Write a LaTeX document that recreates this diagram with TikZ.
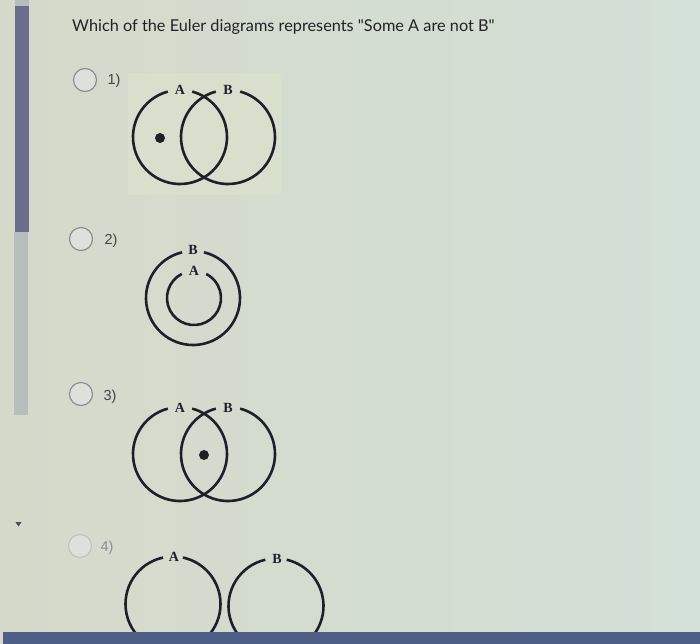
\documentclass[tikz,border=0pt]{standalone}
\usepackage{fontspec}
\setmainfont{Lato}
\newfontfamily\labfont{Liberation Serif}
\newfontfamily\numfont{Liberation Sans}
\definecolor{bgL}{HTML}{D5D9CA}
\definecolor{bgR}{HTML}{D3E0D7}
\definecolor{boxcol}{HTML}{D9DFCD}
\definecolor{ink}{HTML}{1F1F2A}
\definecolor{barDark}{HTML}{6A6E8A}
\definecolor{barLight}{HTML}{B8BDBE}
\definecolor{botbar}{HTML}{4D5E87}
\definecolor{radioline}{HTML}{8A9095}
\definecolor{radiofill}{HTML}{DCE2DA}
\definecolor{titlecol}{HTML}{222226}
\begin{document}
\begin{tikzpicture}[x=1pt,y=1pt,
  setline/.style={draw=ink,line width=2.6pt},
  setlab/.style={inner sep=0pt,font=\labfont\bfseries\fontsize{14}{14}\selectfont,text=ink},
  radio/.style={circle,draw=radioline,line width=1.2pt,fill=radiofill,minimum size=23pt,inner sep=0pt},
  num/.style={inner sep=0pt,font=\numfont\fontsize{14.5}{14.5}\selectfont,text=titlecol!85!white},
  dotmark/.style={circle,fill=ink,minimum size=10pt,inner sep=0pt}]
\useasboundingbox (0,0) rectangle (700,-643);
\begin{scope}
\clip (0,0) rectangle (700,-643);
\shade[left color=bgL,right color=bgR] (0,0) rectangle (700,-643);
% diagram 1 image box
\fill[boxcol] (128,-73) rectangle (281,-195);
% left bars
\fill[barLight] (15,0) rectangle (29,-6);
\fill[barDark] (15,-6) rectangle (29,-232);
\fill[barLight] (14,-232) rectangle (28,-415);
\fill[ink!80] (15.5,-522) -- (21.5,-522) -- (18.5,-526.5) -- cycle;
% title
\node[anchor=base west,inner sep=0pt,text=titlecol,font=\fontsize{16.3}{16.3}\selectfont] (title) at (72,-31) {Which of the Euler diagrams represents \textquotedbl Some A are not B\textquotedbl};
% radio buttons
\node[radio] (r1) at (85,-80) {};
\node[num] (n1) at (114,-81) {1)};
\node[radio] (r2) at (81,-239) {};
\node[num] (n2) at (111,-241) {2)};
\node[radio] (r3) at (81,-394) {};
\node[num] (n3) at (110,-397) {3)};
\node[radio,draw=radioline!55!white] (r4) at (80,-546) {};
\node[num,text=radioline] (n4) at (107,-548) {4)};
% diagram 1
\draw[setline] (180,-137) ++(105:47) arc[start angle=105,end angle=435,radius=47];
\draw[setline] (228,-137) ++(105:47) arc[start angle=105,end angle=435,radius=47];
\node[setlab] (d1a) at (180,-90) {A};
\node[setlab] (d1b) at (228,-90) {B};
\node[dotmark] (d1dot) at (160,-138) {};
% diagram 2
\draw[setline] (193,-298) ++(103.5:47) arc[start angle=103.5,end angle=436.5,radius=47];
\draw[setline] (194,-298) ++(117:27) arc[start angle=117,end angle=423,radius=27];
\node[setlab] (d2b) at (193,-250) {B};
\node[setlab] (d2a) at (194,-271) {A};
% diagram 3
\draw[setline] (180,-454) ++(105:47) arc[start angle=105,end angle=435,radius=47];
\draw[setline] (228,-454) ++(105:47) arc[start angle=105,end angle=435,radius=47];
\node[setlab] (d3a) at (180,-408) {A};
\node[setlab] (d3b) at (228,-408) {B};
\node[dotmark] (d3dot) at (204,-455) {};
% diagram 4
\draw[setline] (173,-604) ++(102:47.5) arc[start angle=102,end angle=438,radius=47.5];
\draw[setline] (276,-606) ++(103:47.5) arc[start angle=103,end angle=437,radius=47.5];
\node[setlab] (d4a) at (174,-557) {A};
\node[setlab] (d4b) at (277,-559) {B};
% bottom bar
\fill[botbar] (3,-632) rectangle (700,-660);
\end{scope}
\end{tikzpicture}
\end{document}
